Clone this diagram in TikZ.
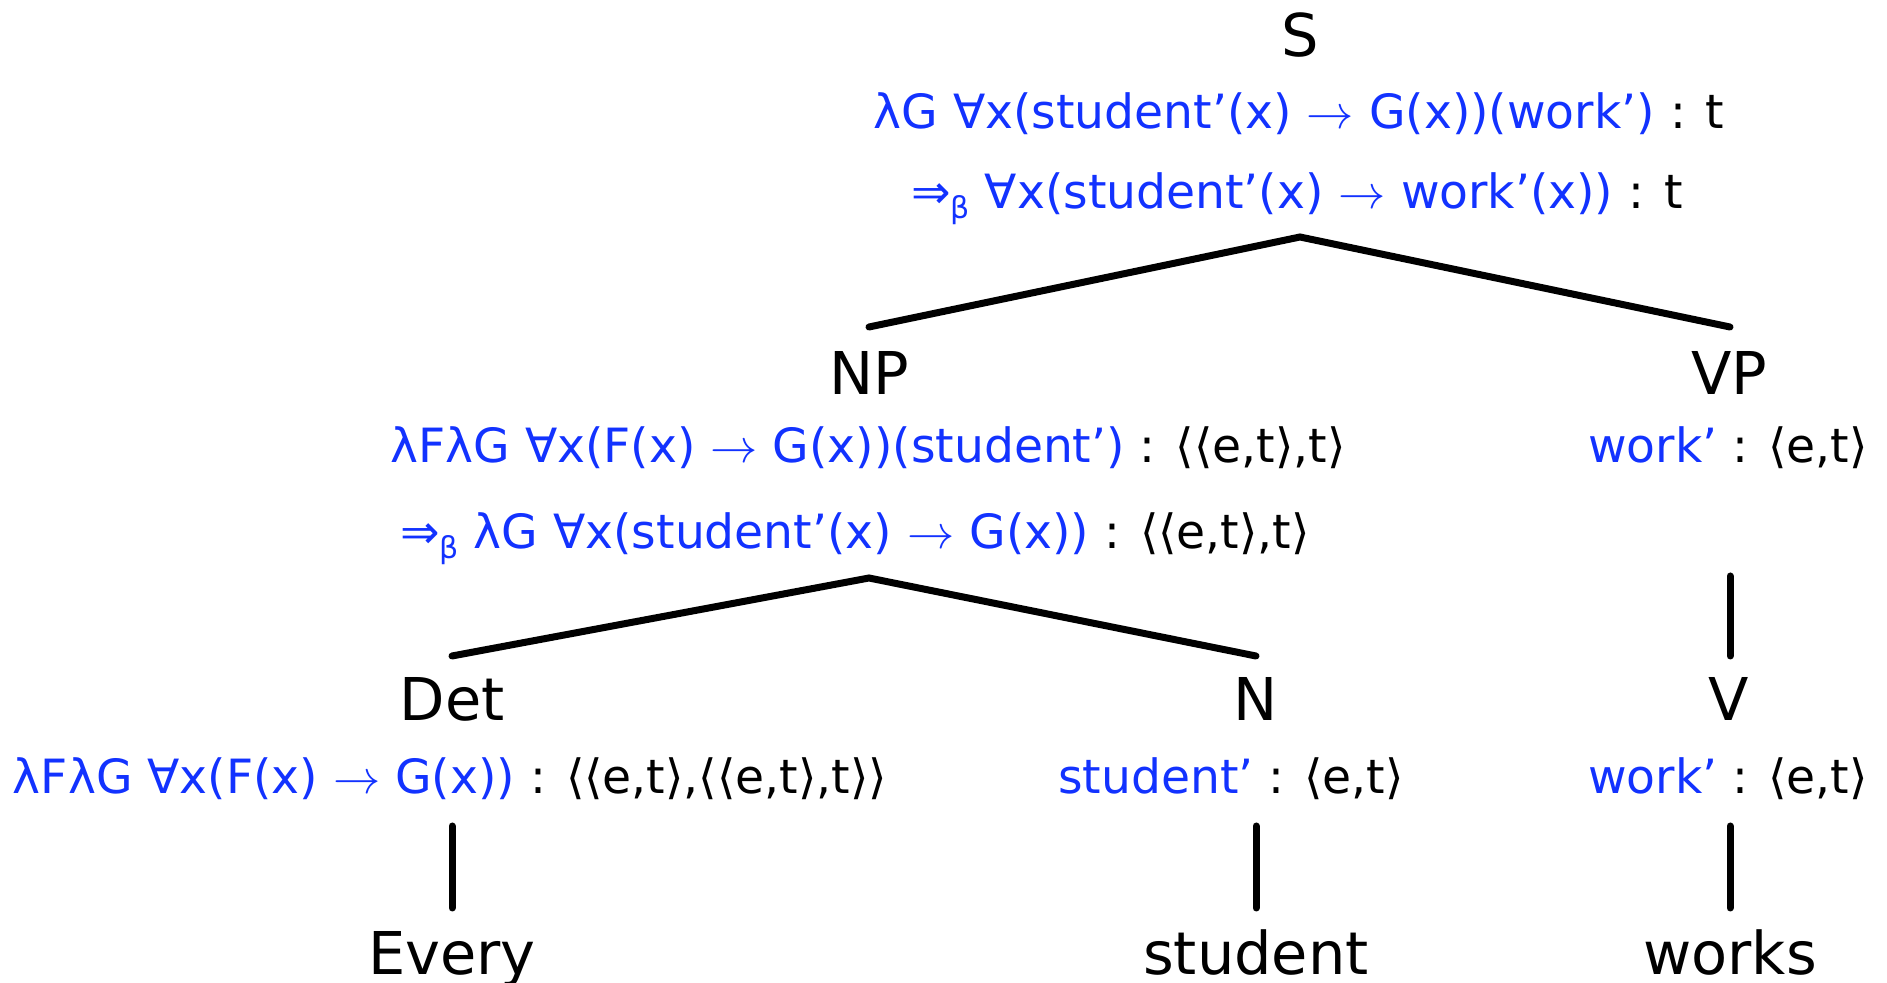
\documentclass[tikz,border=0pt]{standalone}
\usepackage{fontspec}
\setmainfont{DejaVu Sans}
\usepackage{xcolor}
\usepackage{graphicx}
\definecolor{semblue}{RGB}{18,50,255}
\newcommand{\sm}[1]{\textcolor{semblue}{#1}}
\newcommand{\bsub}{\raisebox{-0.35ex}{\fontsize{15}{15}\selectfont β}}
\newcommand{\arr}{\scalebox{0.95}{$\rightarrow$}}
\begin{document}
\begin{tikzpicture}[x=0.5pt,y=-0.5pt,
  lab/.style={anchor=base,inner sep=0pt,font=\fontsize{29.5}{30}\selectfont},
  sem/.style={anchor=base,inner sep=0pt,font=\fontsize{23.6}{24}\selectfont},
  edge/.style={line width=3.5pt,line cap=round}]
\useasboundingbox (0,0) rectangle (1887,983);
% labels
\node[lab] (S) at (1300,57) {S};
\node[sem] (S1) at (1299,129) {\sm{λG ∀x(student’(x) \arr{} G(x))(work’)} : t};
\node[sem] (S2) at (1297,209) {\sm{⇒\bsub{} ∀x(student’(x) \arr{} work’(x))} : t};
\coordinate (Sb) at (1300,237);
\node[lab] (NP) at (869,395) {NP};
\coordinate (NPt) at (869,327);
\node[sem] (NP1) at (868,463) {\sm{λFλG ∀x(F(x) \arr{} G(x))(student’)} : ⟨⟨e,t⟩,t⟩};
\node[sem] (NP2) at (855,549) {\sm{⇒\bsub{} λG ∀x(student’(x) \arr{} G(x))} : ⟨⟨e,t⟩,t⟩};
\coordinate (NPb) at (869,578);
\node[lab] (VP) at (1729,395) {VP};
\coordinate (VPt) at (1730,327);
\node[sem] (VP1) at (1728,463) {\sm{work’} : ⟨e,t⟩};
\coordinate (VPb) at (1730,576);
\node[lab] (Det) at (452,721) {Det};
\coordinate (Dett) at (452,656);
\node[sem] (Det1) at (450,794) {\sm{λFλG ∀x(F(x) \arr{} G(x))} : ⟨⟨e,t⟩,⟨⟨e,t⟩,t⟩⟩};
\coordinate (Detb) at (452,826);
\node[lab] (N) at (1256,721) {N};
\coordinate (Nt) at (1256,656);
\node[sem] (N1) at (1231,794) {\sm{student’} : ⟨e,t⟩};
\coordinate (Nb) at (1256,826);
\node[lab] (V) at (1729,721) {V};
\coordinate (Vt) at (1730,656);
\node[sem] (V1) at (1728,794) {\sm{work’} : ⟨e,t⟩};
\coordinate (Vb) at (1730,826);
\node[lab] (Every) at (452,975) {Every};
\coordinate (Everyt) at (452,908);
\node[lab] (student) at (1256,975) {student};
\coordinate (studentt) at (1256,908);
\node[lab] (works) at (1730,975) {works};
\coordinate (workst) at (1730,908);
% edges
\draw[edge] (NPt) -- (Sb) -- (VPt);
\draw[edge] (Dett) -- (NPb) -- (Nt);
\draw[edge] (VPb) -- (Vt);
\draw[edge] (Detb) -- (Everyt);
\draw[edge] (Nb) -- (studentt);
\draw[edge] (Vb) -- (workst);
\end{tikzpicture}
\end{document}
